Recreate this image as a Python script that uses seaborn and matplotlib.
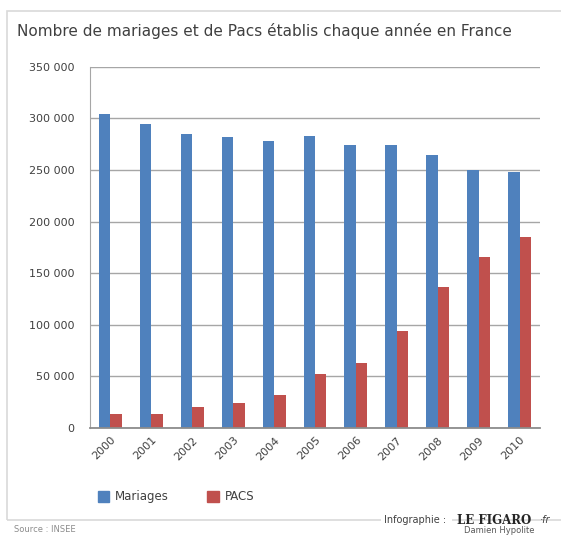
import pandas as pd
import numpy as np

import matplotlib.pyplot as plt
import matplotlib.patches as mpatches
import seaborn as sns
from matplotlib.ticker import FuncFormatter, FixedLocator

sns.set_style("white")
plt.rcParams['font.family'] = ['DejaVu Sans']

# data
years = ['2000', '2001', '2002', '2003', '2004', '2005',
         '2006', '2007', '2008', '2009', '2010']
mariages = [304000, 295000, 285000, 282000, 278000, 283000,
            274000, 274000, 265000, 250000, 248000]
pacs = [14000, 14000, 20000, 24000, 32000, 52000,
        63000, 94000, 137000, 166000, 185000]
series = ['Mariages', 'PACS']
colors = ['#4F81BD', '#C0504D']

df = pd.DataFrame({
    'annee': years * 2,
    'valeur': mariages + pacs,
    'serie': [series[0]] * len(years) + [series[1]] * len(years),
})

fig = plt.figure(figsize=(5.61, 5.39), dpi=100)

# outer frame of the infographic
frame = mpatches.Rectangle((0.012, 0.035), 0.99, 0.945, transform=fig.transFigure,
                           fill=False, edgecolor='#d9d9d9', linewidth=1.2)
fig.patches.append(frame)

ax = fig.add_axes([0.160, 0.206, 0.803, 0.670])
sns.barplot(data=df, x='annee', y='valeur', hue='serie', palette=colors,
            width=0.56, gap=0, saturation=1, linewidth=0, legend=False, ax=ax)

ax.set_ylim(0, 350000)
ax.set_yticks(np.arange(0, 350001, 50000))
ax.yaxis.set_major_formatter(FuncFormatter(lambda v, p: '{:,}'.format(int(v)).replace(',', ' ')))
ax.yaxis.grid(True, color='#a6a6a6', linewidth=1)
ax.set_axisbelow(True)
ax.set_xlim(-0.5, len(years) - 0.5)

for s in ['top', 'right']:
    ax.spines[s].set_visible(False)
ax.spines['left'].set_color('#a6a6a6')
ax.spines['bottom'].set_color('#8c8c8c')
ax.spines['bottom'].set_linewidth(1.3)

ax.tick_params(axis='y', length=0, labelsize=8, labelcolor='#404040', pad=11)
ax.tick_params(axis='x', which='major', length=0, labelsize=8, labelcolor='#404040', pad=5)
ax.xaxis.set_minor_locator(FixedLocator(np.arange(-0.5, len(years), 1)))
ax.tick_params(axis='x', which='minor', length=4, color='#8c8c8c', direction='out')
plt.setp(ax.get_xticklabels(), rotation=45, ha='right', rotation_mode='anchor')
ax.set_xlabel('')
ax.set_ylabel('')

fig.text(0.03, 0.942, 'Nombre de mariages et de Pacs établis chaque année en France',
         fontsize=11, color='#404040', ha='left', va='center')

handles = [mpatches.Patch(color=c, label=l) for c, l in zip(colors, series)]
fig.legend(handles=handles, loc='center left', bbox_to_anchor=(0.155, 0.078), ncol=2,
           frameon=False, fontsize=8.5, handlelength=1.0, handleheight=1.0,
           columnspacing=3.2, handletextpad=0.5, labelcolor='#404040')

fig.text(0.025, 0.01, 'Source : INSEE', fontsize=6, color='#8c8c8c', ha='left', va='bottom')
fig.text(0.685, 0.035, 'Infographie : ', fontsize=7, color='#404040', ha='left', va='center',
         bbox=dict(facecolor='white', edgecolor='none', pad=2))
fig.text(0.815, 0.035, 'LE FIGARO', fontsize=8.5, fontweight='bold', family='DejaVu Serif',
         color='#262626', ha='left', va='center')
fig.text(0.963, 0.035, '·fr', fontsize=7, style='italic', color='#404040', ha='left', va='center')
fig.text(0.89, 0.008, 'Damien Hypolite', fontsize=6, color='#595959', ha='center', va='bottom')

fig.savefig('out.png', dpi=100)
